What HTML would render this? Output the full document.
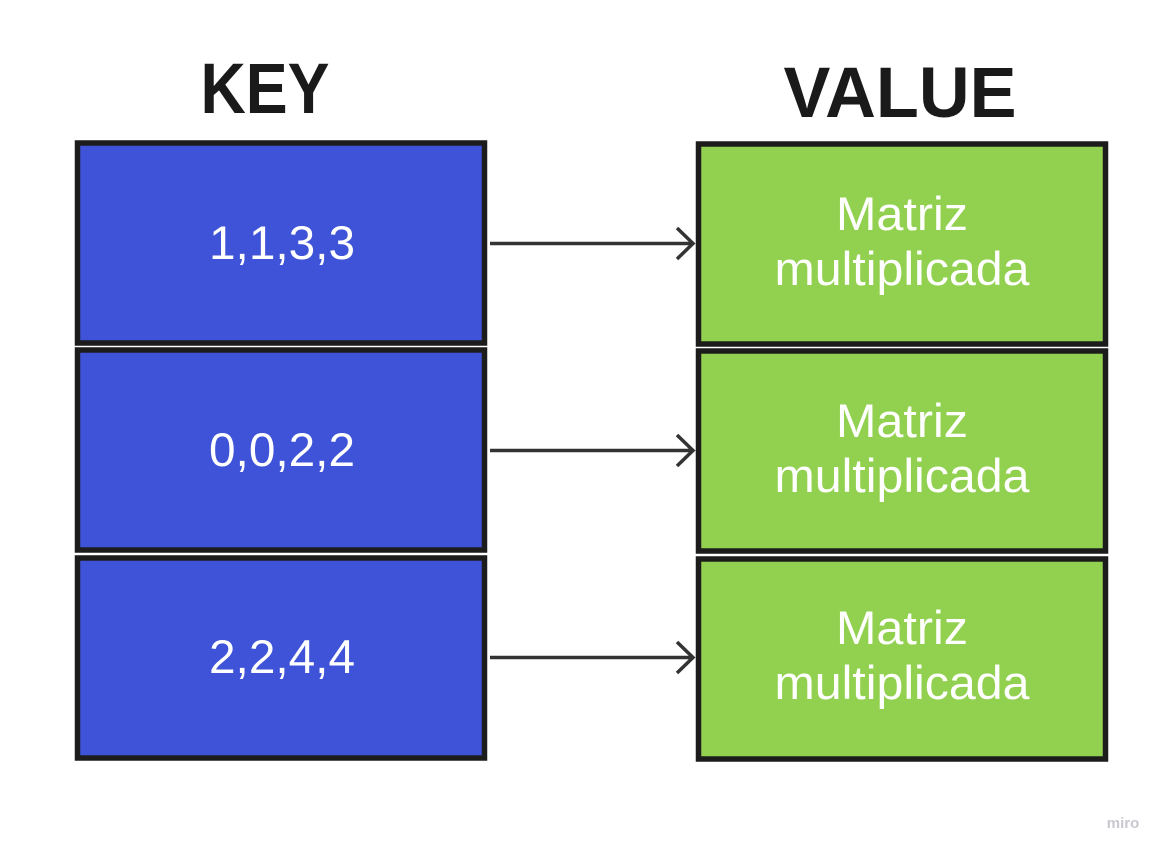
<!DOCTYPE html>
<html><head><style>html,body{margin:0;padding:0;background:#fff;}svg{display:block}</style></head>
<body>
<svg width="1168" height="855" viewBox="0 0 1168 855" xmlns="http://www.w3.org/2000/svg">
<g font-family="Liberation Sans, Arial, sans-serif">
<text x="265" y="113" text-anchor="middle" font-weight="bold" font-size="71" fill="#1a1a1a" textLength="129" lengthAdjust="spacingAndGlyphs">KEY</text>
<text x="900" y="117" text-anchor="middle" font-weight="bold" font-size="71" fill="#1a1a1a" textLength="233" lengthAdjust="spacingAndGlyphs">VALUE</text>
<g stroke="#1c1c1c" stroke-width="5.5">
<rect x="77.5" y="143" width="407" height="200" fill="#3e53d8"/>
<rect x="77.5" y="350" width="407" height="200" fill="#3e53d8"/>
<rect x="77.5" y="558" width="407" height="200" fill="#3e53d8"/>
<rect x="698.5" y="144" width="407" height="200" fill="#92d150"/>
<rect x="698.5" y="351" width="407" height="200" fill="#92d150"/>
<rect x="698.5" y="559" width="407" height="200" fill="#92d150"/>
</g>
<g fill="#fff" font-size="47" text-anchor="middle">
<text x="282" y="259" textLength="146" lengthAdjust="spacingAndGlyphs">1,1,3,3</text>
<text x="282" y="466" textLength="146" lengthAdjust="spacingAndGlyphs">0,0,2,2</text>
<text x="282" y="673" textLength="146" lengthAdjust="spacingAndGlyphs">2,2,4,4</text>
</g>
<g fill="#fff" font-size="47" text-anchor="middle">
<text x="902" y="230" textLength="132" lengthAdjust="spacingAndGlyphs">Matriz</text><text x="902" y="285" textLength="255" lengthAdjust="spacingAndGlyphs">multiplicada</text>
<text x="902" y="437" textLength="132" lengthAdjust="spacingAndGlyphs">Matriz</text><text x="902" y="492" textLength="255" lengthAdjust="spacingAndGlyphs">multiplicada</text>
<text x="902" y="644" textLength="132" lengthAdjust="spacingAndGlyphs">Matriz</text><text x="902" y="699" textLength="255" lengthAdjust="spacingAndGlyphs">multiplicada</text>
</g>
<g stroke="#333" stroke-width="3.5" fill="none">
<path d="M490 243.5H692M677 228l16 15.5-16 15.5"/>
<path d="M490 450.5H692M677 435l16 15.5-16 15.5"/>
<path d="M490 657.5H692M677 642l16 15.5-16 15.5"/>
</g>
<text x="1123" y="828" text-anchor="middle" font-size="15" font-weight="bold" fill="#c8c8d0">miro</text>
</g>
</svg>
</body></html>
